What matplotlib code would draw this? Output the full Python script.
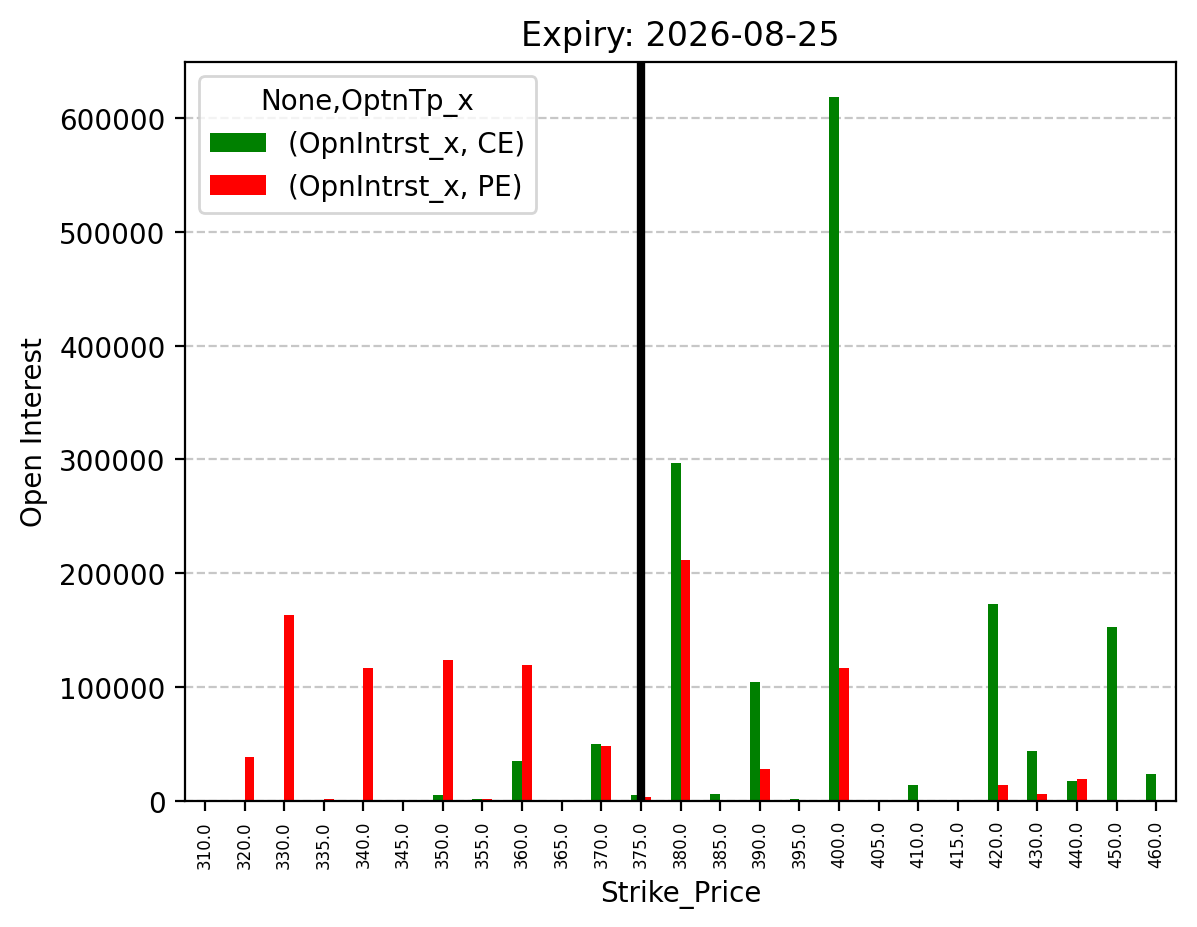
import numpy as np
import matplotlib
matplotlib.use("Agg")
from matplotlib import pyplot as plt

strikes = [310.0, 320.0, 330.0, 335.0, 340.0, 345.0, 350.0, 355.0, 360.0, 365.0,
           370.0, 375.0, 380.0, 385.0, 390.0, 395.0, 400.0, 405.0, 410.0, 415.0,
           420.0, 430.0, 440.0, 450.0, 460.0]
ce_oi = [0, 0, 0, 0, 0, 0, 5300, 1500, 35200, 0,
         50100, 5300, 296500, 6200, 104700, 1500, 618500, 0, 14000, 0,
         173300, 44000, 17600, 153000, 23800]
pe_oi = [0, 38700, 163600, 1500, 117000, 0, 124000, 1500, 119600, 0,
         48400, 3500, 212000, 0, 28200, 0, 117000, 0, 0, 0,
         14000, 6200, 19400, 0, 0]
spot = 375.0

fig = plt.figure(figsize=(5.985, 4.64), dpi=200)
ax = fig.add_axes([0.1546, 0.1362, 0.8279, 0.7958])

x = np.arange(len(strikes))
w = 0.25
ax.bar(x - w/2, ce_oi, w, color="green", label="(OpnIntrst_x, CE)")
ax.bar(x + w/2, pe_oi, w, color="red", label="(OpnIntrst_x, PE)")
ax.set_xlim(-0.5, len(strikes) - 0.5)
ax.set_xticks(x)
ax.set_xticklabels([str(s) for s in strikes], rotation=90, fontsize=6)
ax.set_ylim(0, 649400)
ax.grid(axis="y", linestyle="--", alpha=0.7)
ax.set_axisbelow(True)
ax.axvline(strikes.index(spot), color="black", linewidth=3)
ax.set_xlabel("Strike_Price")
ax.set_ylabel("Open Interest")
ax.set_title("Expiry: 2026-08-25")
ax.legend(title="None,OptnTp_x", loc="upper left")

fig.savefig("out.png", dpi=200)
